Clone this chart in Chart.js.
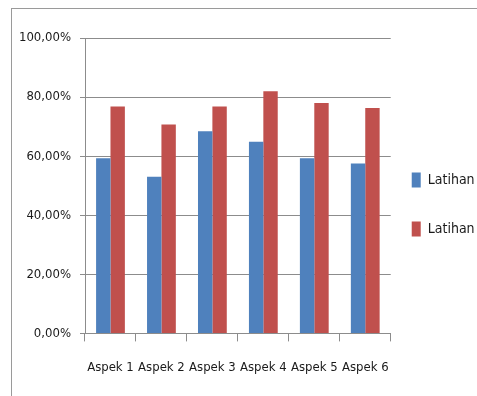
<!DOCTYPE html>
<html>
<head>
<meta charset="utf-8">
<script src="https://cdn.jsdelivr.net/npm/chart.js@4/dist/chart.umd.min.js"></script>
<style>
  html, body { margin: 0; padding: 0; background: #fff; overflow: hidden; }
  #wrap { position: absolute; left: 0; top: 0; width: 477px; height: 396px; overflow: hidden; }
  #box { position: absolute; left: 0; top: 0; width: 520px; height: 396px; }
</style>
</head>
<body>
<div id="wrap"><div id="box"><canvas id="chart"></canvas></div></div>
<script>
// Chart data
const categories = ['Aspek 1', 'Aspek 2', 'Aspek 3', 'Aspek 4', 'Aspek 5', 'Aspek 6'];
const latihan1 = [59.3, 53.0, 68.4, 64.9, 59.3, 57.5];
const latihan2 = [76.8, 70.7, 76.8, 82.0, 78.0, 76.3];
const seriesNames = ['Latihan I', 'Latihan II'];
const yTicks = [0, 20, 40, 60, 80, 100];

const FONT = '"DejaVu Sans", sans-serif';

// outer frame like the Excel chart border
const framePlugin = {
    id: 'frame',
    beforeDraw(chart) {
        const c = chart.ctx;
        c.save();
        c.fillStyle = '#fff';
        c.fillRect(0, 0, chart.width, chart.height);
        c.strokeStyle = '#9a9a9a';
        c.lineWidth = 1;
        c.strokeRect(11.5, 8.5, 1000, 1000);
        c.restore();
    }
};

// nudge the legend closer to the plot and a bit higher
const legendShift = {
    id: 'legendShift',
    afterLayout(chart) {
        const lg = chart.legend;
        if (!lg) return;
        lg.left -= 13;
        lg.right -= 13;
        lg.top -= 11;
        lg.bottom -= 11;
    }
};

const ctx = document.getElementById('chart').getContext('2d');
new Chart(ctx, {
    type: 'bar',
    data: {
        labels: categories,
        datasets: [{
            label: seriesNames[0],
            data: latihan1,
            backgroundColor: '#4F81BD',
            categoryPercentage: 0.565,
            barPercentage: 1
        }, {
            label: seriesNames[1],
            data: latihan2,
            backgroundColor: '#C0504D',
            categoryPercentage: 0.565,
            barPercentage: 1
        }]
    },
    options: {
        responsive: true,
        maintainAspectRatio: false,
        animation: false,
        layout: {
            padding: { top: 38, bottom: 3, left: 10, right: 11 }
        },
        plugins: {
            title: { display: false },
            tooltip: { enabled: false },
            legend: {
                position: 'right',
                labels: {
                    boxWidth: 9,
                    boxHeight: 15,
                    padding: 34,
                    color: '#1a1a1a',
                    font: { family: FONT, size: 14, weight: 'condensed' }
                }
            }
        },
        scales: {
            y: {
                min: 0,
                max: 100,
                afterBuildTicks(scale) {
                    scale.ticks = yTicks.map(v => ({ value: v }));
                },
                afterFit(scale) {
                    scale.width = 75;
                },
                ticks: {
                    padding: 9,
                    color: '#1a1a1a',
                    font: { family: FONT, size: 13, weight: 'condensed' },
                    callback: v => v.toFixed(2).replace('.', ',') + '%'
                },
                grid: {
                    color: '#8c8c8c',
                    tickLength: 5
                },
                border: { color: '#8c8c8c' }
            },
            x: {
                ticks: {
                    padding: 18,
                    maxRotation: 0,
                    autoSkip: false,
                    color: '#1a1a1a',
                    font: { family: FONT, size: 13, weight: 'condensed' }
                },
                grid: {
                    offset: true,
                    drawOnChartArea: false,
                    color: '#8c8c8c',
                    tickLength: 8
                },
                border: { color: '#8c8c8c' }
            }
        }
    },
    plugins: [framePlugin, legendShift]
});
</script>
</body>
</html>
